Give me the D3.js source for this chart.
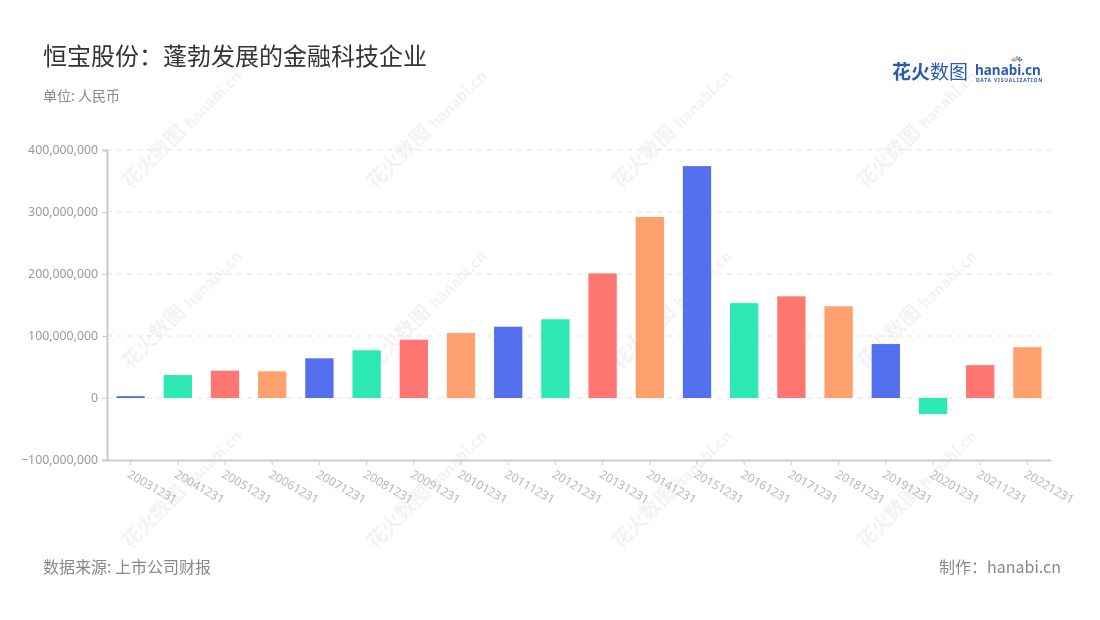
<!DOCTYPE html>
<html><head><meta charset="utf-8">
<script src="https://cdn.jsdelivr.net/npm/d3@7"></script>
<style>body{margin:0;background:#fff;font-family:"Noto Sans CJK SC","Noto Sans",sans-serif;}</style>
</head><body><svg id="c" width="1100" height="620"></svg>
<script>
const categories = ["20031231","20041231","20051231","20061231","20071231","20081231","20091231","20101231","20111231","20121231","20131231","20141231","20151231","20161231","20171231","20181231","20191231","20201231","20211231","20221231"];
const values = [3000000,37000000,44000000,43000000,64000000,77000000,94000000,105000000,115000000,127000000,201000000,292000000,374000000,153000000,164000000,148000000,87000000,-26000000,53000000,82000000];
const yTicks = [-100000000,0,100000000,200000000,300000000,400000000];
const palette = ["#5570EE","#2DE8B2","#FF7770","#FFA16E"];

const svg = d3.select("#c");
const W=1100,H=620;
const m={l:107,r:49,t:150,b:160};
const x=d3.scaleBand().domain(categories).range([m.l,W-m.r]).paddingInner(0.4).paddingOuter(0.2);
const y=d3.scaleLinear().domain([-100000000,400000000]).range([460,150]);
const fmt=d3.format(",");

// watermarks
const wm=svg.append("g").attr("opacity",0.06);
const wmPos=[[130,190],[375,190],[620,190],[865,190],[130,370],[375,370],[620,370],[865,370],[130,550],[375,550],[620,550],[865,550]];
wmPos.forEach(p=>{
  const g=wm.append("g").attr("transform",`translate(${p[0]},${p[1]}) rotate(-45)`);
  g.append("text").attr("font-size",20).attr("font-weight","bold").attr("fill","#333").text("花火数图");
  g.append("text").attr("x",86).attr("font-size",15).attr("font-weight","bold").attr("fill","#333").text("hanabi.cn");
});

// grid
svg.append("g").selectAll("line").data(yTicks.filter(d=>d!==-100000000)).join("line")
 .attr("x1",m.l).attr("x2",W-m.r).attr("y1",d=>y(d)).attr("y2",d=>y(d))
 .attr("stroke","#e3e3e3").attr("stroke-dasharray","5,5").attr("stroke-width",1);

// y axis
const ya=svg.append("g").attr("transform",`translate(${m.l},0)`)
 .call(d3.axisLeft(y).tickValues(yTicks).tickFormat(fmt).tickSize(5).tickPadding(4));
ya.select(".domain").attr("stroke","#ccc").attr("stroke-width",2);
ya.selectAll(".tick line").attr("stroke","#ccc");
ya.selectAll("text").attr("fill","#999").attr("font-size",12.3).attr("font-family","'Noto Sans',sans-serif");

// x axis
const xa=svg.append("g").attr("transform",`translate(0,460)`)
 .call(d3.axisBottom(x).tickSize(5).tickSizeOuter(0).tickPadding(6));
xa.select(".domain").attr("stroke","#ccc").attr("stroke-width",2);
xa.selectAll(".tick line").attr("stroke","#ccc");
xa.selectAll("text").attr("fill","#b4b8c6").attr("font-size",12).attr("font-family","'Noto Sans',sans-serif")
 .attr("text-anchor","start").attr("x",0).attr("y",0).attr("dy","0.35em").attr("transform","translate(-2,13) rotate(30)");

// bars
svg.append("g").selectAll("rect").data(values).join("rect")
 .attr("x",(d,i)=>x(categories[i])).attr("width",x.bandwidth())
 .attr("y",d=>y(Math.max(0,d))).attr("height",d=>Math.abs(y(d)-y(0)))
 .attr("fill",(d,i)=>palette[i%4]);

// titles
svg.append("text").attr("x",43).attr("y",65).attr("font-size",24).attr("fill","#333").text("恒宝股份：蓬勃发展的金融科技企业");
svg.append("text").attr("x",43).attr("y",101).attr("font-size",14).attr("fill","#888").text("单位: 人民币");
svg.append("text").attr("x",43).attr("y",573).attr("font-size",16).attr("fill","#888").text("数据来源: 上市公司财报");
svg.append("text").attr("x",1061).attr("y",573).attr("text-anchor","end").attr("font-size",16).attr("fill","#888").text("制作：hanabi.cn");

// logo
const lg=svg.append("g");
lg.append("text").attr("x",892).attr("y",79).attr("font-size",19).attr("font-weight","bold").attr("fill","#2a5bb0").text("花火");
lg.append("text").attr("x",930).attr("y",79).attr("font-size",19).attr("fill","#2a5bb0").text("数图");
lg.append("text").attr("x",975).attr("y",75).attr("font-size",13.5).attr("font-weight","bold").attr("fill","#2a5bb0").attr("font-family","'Noto Sans',sans-serif").text("hanabi.cn");
lg.append("text").attr("x",976).attr("y",82).attr("font-size",5).attr("font-weight","bold").attr("fill","#2a5bb0").attr("letter-spacing",0.8).attr("font-family","'Noto Sans',sans-serif").text("DATA VISUALIZATION");
const sp=["#ff5c7a","#ffb347","#3fd1a8","#4a90e2","#9b59b6"];
sp.forEach((c,i)=>{const a=-Math.PI/2+(i-2)*0.55;lg.append("line").attr("x1",1017+Math.cos(a)*2).attr("y1",62+Math.sin(a)*2).attr("x2",1017+Math.cos(a)*6).attr("y2",62+Math.sin(a)*6).attr("stroke",c).attr("stroke-width",1.6);});
</script></body></html>
